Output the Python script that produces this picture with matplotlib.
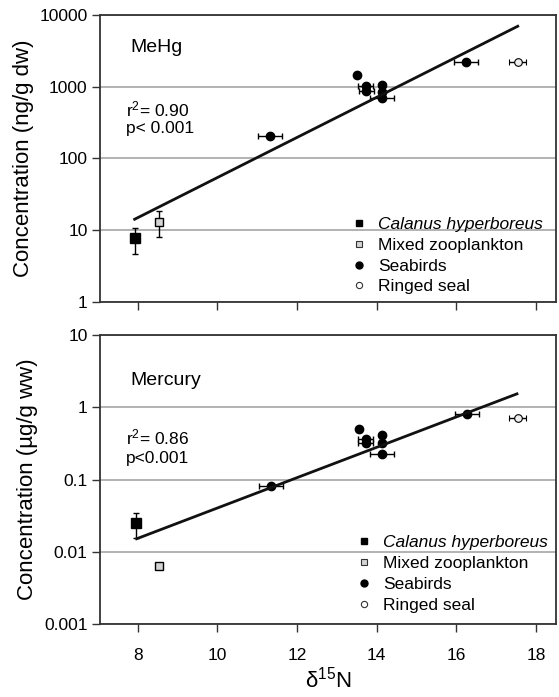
import numpy as np
import matplotlib
matplotlib.use('Agg')
import matplotlib.pyplot as plt
from matplotlib.lines import Line2D
from matplotlib.ticker import FixedLocator, FixedFormatter, NullLocator

plt.rcParams['font.family'] = ['Liberation Sans', 'DejaVu Sans']
plt.rcParams['mathtext.fontset'] = 'custom'
plt.rcParams['mathtext.rm'] = 'Liberation Sans'
plt.rcParams['mathtext.it'] = 'Liberation Sans:italic'

# --- MeHg panel (ng/g dw) ---
mehg_cal_x = [7.92]
mehg_cal_y = [7.7]
mehg_cal_yerr = [[3.1], [2.9]]
mehg_zoo_x = [8.54]
mehg_zoo_y = [13.2]
mehg_zoo_yerr = [[5.2], [5.6]]
mehg_bird_x = [11.32, 13.51, 13.72, 13.74, 14.13, 14.13, 14.13, 16.24]
mehg_bird_y = [207, 1435, 1020, 860, 1066, 845, 695, 2245]
mehg_bird_xerr = [0.3, 0, 0.19, 0.19, 0, 0, 0.31, 0.3]
mehg_seal_x = [17.54]
mehg_seal_y = [2245]
mehg_seal_xerr = [0.21]
mehg_fit = (-1.061, 0.2796)      # log10(y) = a + b*x
mehg_fit_range = (7.92, 17.54)

# --- Mercury panel (ug/g ww) ---
hg_cal_x = [7.95]
hg_cal_y = [0.0252]
hg_cal_yerr = [[0.0099], [0.0094]]
hg_zoo_x = [8.54]
hg_zoo_y = [0.0063]
hg_bird_x = [11.35, 13.55, 13.72, 13.72, 14.13, 14.13, 14.13, 16.26]
hg_bird_y = [0.081, 0.50, 0.365, 0.315, 0.419, 0.315, 0.222, 0.818]
hg_bird_xerr = [0.3, 0, 0.19, 0.19, 0, 0, 0.31, 0.3]
hg_seal_x = [17.54]
hg_seal_y = [0.70]
hg_seal_xerr = [0.21]
hg_fit = (-3.494, 0.21)
hg_fit_range = (7.97, 17.52)

x_ticks = [8, 10, 12, 14, 16, 18]
mehg_yticks = [1, 10, 100, 1000, 10000]
mehg_ylabels = ['1', '10', '100', '1000', '10000']
hg_yticks = [0.001, 0.01, 0.1, 1, 10]
hg_ylabels = ['0.001', '0.01', '0.1', '1', '10']

legend_labels = ['Calanus hyperboreus', 'Mixed zooplankton', 'Seabirds',
                 'Ringed seal']

spine_c = '#333333'
grid_c = '#a6a6a6'
zoo_c = '#d4d4d4'
seal_c = '#eeeeee'

fig = plt.figure(figsize=(5.59, 6.97), dpi=100)
ax1 = fig.add_axes([0.1789, 0.5667, 0.8157, 0.4118])
ax2 = fig.add_axes([0.1789, 0.1047, 0.8157, 0.4147])


def draw_panel(ax, cal, zoo, bird, seal, fit, fit_range, anchor):
    eb = dict(ecolor='black', elinewidth=1, capsize=2.5, capthick=1,
              linestyle='none', zorder=3)
    ax.errorbar(cal[0], cal[1], yerr=cal[2], marker='s', ms=6.5,
                mfc='black', mec='black', **eb)
    ax.errorbar(zoo[0], zoo[1], yerr=zoo[2], marker='s', ms=5.5, mfc=zoo_c,
                mec='black', mew=1, **eb)
    ax.errorbar(bird[0], bird[1], xerr=bird[2], marker='o', ms=6,
                mfc='black', mec='black', **eb)
    ax.errorbar(seal[0], seal[1], xerr=seal[2], marker='o', ms=5.5,
                mfc=seal_c, mec='black', mew=0.8, **eb)
    xs = np.array(fit_range)
    ax.plot(xs, 10 ** (fit[0] + fit[1] * xs), color='#111111', lw=2,
            zorder=4)
    ax.set_yscale('log')
    ax.set_xlim(7.05, 18.5)
    ax.xaxis.set_major_locator(FixedLocator(x_ticks))
    ax.xaxis.set_minor_locator(NullLocator())
    ax.yaxis.set_minor_locator(NullLocator())
    ax.tick_params(axis='both', direction='out', length=6, width=1,
                   color=spine_c, labelsize=12.5, pad=3)
    ax.tick_params(axis='x', pad=11)
    ax.yaxis.grid(True, color=grid_c, lw=1.2)
    ax.set_axisbelow(True)
    for s in ax.spines.values():
        s.set_color(spine_c)
        s.set_linewidth(1.3)
    handles = [
        Line2D([], [], marker='s', ls='none', ms=5, mfc='black', mec='black'),
        Line2D([], [], marker='s', ls='none', ms=4.5, mfc=zoo_c,
               mec='#333333', mew=0.8),
        Line2D([], [], marker='o', ls='none', ms=5, mfc='black', mec='black'),
        Line2D([], [], marker='o', ls='none', ms=4.5, mfc='white',
               mec='#333333', mew=0.8),
    ]
    leg = ax.legend(handles, legend_labels, loc='lower left',
                    bbox_to_anchor=anchor, frameon=False,
                    fontsize=12.5, handlelength=0.8, handletextpad=0.7,
                    labelspacing=0.33, borderaxespad=0.2)
    leg.get_texts()[0].set_style('italic')
    return leg


draw_panel(ax1,
           (mehg_cal_x, mehg_cal_y, mehg_cal_yerr),
           (mehg_zoo_x, mehg_zoo_y, mehg_zoo_yerr),
           (mehg_bird_x, mehg_bird_y, mehg_bird_xerr),
           (mehg_seal_x, mehg_seal_y, mehg_seal_xerr),
           mehg_fit, mehg_fit_range, (0.53, -0.01))
ax1.set_ylim(1, 10000)
ax1.yaxis.set_major_locator(FixedLocator(mehg_yticks))
ax1.yaxis.set_major_formatter(FixedFormatter(mehg_ylabels))
ax1.tick_params(axis='x', labelbottom=False)
ax1.set_ylabel('Concentration (ng/g dw)', fontsize=16, labelpad=4)
ax1.text(0.066, 0.885, 'MeHg', transform=ax1.transAxes, fontsize=14,
         va='center', ha='left')
ax1.text(0.056, 0.672, 'r$^2$= 0.90', transform=ax1.transAxes,
         fontsize=12.5, va='center', ha='left')
ax1.text(0.056, 0.603, 'p< 0.001', transform=ax1.transAxes, fontsize=12.5,
         va='center', ha='left')

draw_panel(ax2,
           (hg_cal_x, hg_cal_y, hg_cal_yerr),
           (hg_zoo_x, hg_zoo_y, None),
           (hg_bird_x, hg_bird_y, hg_bird_xerr),
           (hg_seal_x, hg_seal_y, hg_seal_xerr),
           hg_fit, hg_fit_range, (0.54, 0.002))
ax2.set_ylim(0.001, 10)
ax2.yaxis.set_major_locator(FixedLocator(hg_yticks))
ax2.yaxis.set_major_formatter(FixedFormatter(hg_ylabels))
ax2.set_ylabel('Concentration (\u00b5g/g ww)', fontsize=16, labelpad=4)
ax2.set_xlabel('\u03b4$^{15}$N', fontsize=16, labelpad=3)
ax2.text(0.066, 0.844, 'Mercury', transform=ax2.transAxes, fontsize=14,
         va='center', ha='left')
ax2.text(0.056, 0.644, 'r$^2$= 0.86', transform=ax2.transAxes,
         fontsize=12.5, va='center', ha='left')
ax2.text(0.056, 0.574, 'p<0.001', transform=ax2.transAxes, fontsize=12.5,
         va='center', ha='left')

fig.savefig('out.png', dpi=100)
